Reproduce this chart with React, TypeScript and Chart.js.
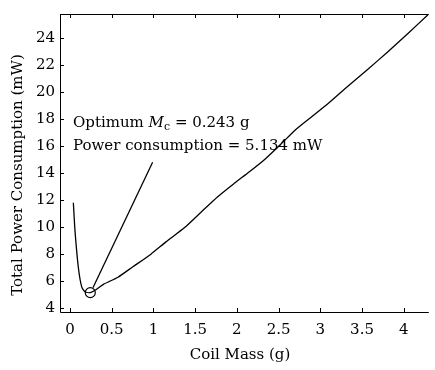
import React, { useEffect, useRef } from "react";
import { Chart, registerables } from "chart.js";

Chart.register(...registerables);

const coilMass = [0.04, 0.06, 0.1, 0.14, 0.18, 0.243, 0.3, 0.4, 0.575, 0.75, 0.97, 1.15, 1.37, 1.57, 1.77, 1.96, 2.15, 2.34, 2.52, 2.7, 2.9, 3.1, 3.33, 3.57, 3.8, 4.05, 4.29];
const powerMW = [11.8, 9.7, 7.0, 5.56, 5.2, 5.134, 5.31, 5.75, 6.28, 7.04, 7.99, 8.9, 9.94, 11.1, 12.25, 13.2, 14.1, 15.05, 16.1, 17.2, 18.2, 19.2, 20.45, 21.7, 22.95, 24.35, 25.75];
const optimumMass = [0.243];
const optimumPower = [5.134];
const leaderX = [0.275, 0.99];
const leaderY = [5.5, 14.8];
const xTicks = [0, 0.5, 1, 1.5, 2, 2.5, 3, 3.5, 4];
const yTicks = [4, 6, 8, 10, 12, 14, 16, 18, 20, 22, 24];

const FONT = "'DejaVu Serif', 'Liberation Serif', serif";

const decorPlugin = {
  id: "decor",
  afterDraw(chart: any) {
    const ctx = chart.ctx;
    const { left, right, top, bottom } = chart.chartArea;
    const xs = chart.scales.x;
    const ys = chart.scales.y;
    ctx.save();
    ctx.strokeStyle = "#000";
    ctx.lineWidth = 1;
    ctx.beginPath();
    ctx.moveTo(left + 0.5, top);
    ctx.lineTo(left + 0.5, bottom + 0.5);
    ctx.lineTo(right, bottom + 0.5);
    ctx.moveTo(left, top + 0.5);
    ctx.lineTo(right, top + 0.5);
    const tl = 4;
    xTicks.forEach((v) => {
      const px = Math.round(xs.getPixelForValue(v)) + 0.5;
      ctx.moveTo(px, bottom);
      ctx.lineTo(px, bottom - tl);
      ctx.moveTo(px, top);
      ctx.lineTo(px, top + tl);
    });
    yTicks.forEach((v) => {
      const py = Math.round(ys.getPixelForValue(v)) + 0.5;
      ctx.moveTo(left, py);
      ctx.lineTo(left + tl, py);
    });
    ctx.stroke();

    ctx.fillStyle = "#000";
    ctx.font = `15px ${FONT}`;
    ctx.textAlign = "center";
    ctx.textBaseline = "middle";
    ctx.fillText("Coil Mass (g)", 240, 355);
    ctx.save();
    ctx.translate(18, 175);
    ctx.rotate(-Math.PI / 2);
    ctx.fillText("Total Power Consumption (mW)", 0, 0);
    ctx.restore();

    ctx.textAlign = "left";
    ctx.textBaseline = "alphabetic";
    let x = 73;
    const b1 = 127;
    ctx.font = `15px ${FONT}`;
    ctx.fillText("Optimum ", x, b1);
    x += ctx.measureText("Optimum ").width;
    ctx.font = `italic 15px ${FONT}`;
    ctx.fillText("M", x, b1);
    x += ctx.measureText("M").width;
    ctx.font = `11px ${FONT}`;
    ctx.fillText("c", x, b1 + 3);
    x += ctx.measureText("c").width;
    ctx.font = `15px ${FONT}`;
    ctx.fillText(" = 0.243 g", x, b1);
    ctx.fillText("Power consumption = 5.134 mW", 73, 150);
    ctx.restore();
  },
};

export default function App() {
  const ref = useRef<HTMLCanvasElement>(null);
  useEffect(() => {
    document.body.style.margin = "0";
    const canvas = ref.current!;
    const chart = new Chart(canvas, {
      type: "line",
      data: {
        datasets: [
          {
            data: coilMass.map((m, i) => ({ x: m, y: powerMW[i] })),
            borderColor: "#000",
            borderWidth: 1.3,
            pointRadius: 0,
            tension: 0.2,
            fill: false,
          },
          {
            data: leaderX.map((m, i) => ({ x: m, y: leaderY[i] })),
            borderColor: "#000",
            borderWidth: 1.3,
            pointRadius: 0,
            fill: false,
          },
          {
            data: optimumMass.map((m, i) => ({ x: m, y: optimumPower[i] })),
            borderColor: "#000",
            backgroundColor: "rgba(0,0,0,0)",
            borderWidth: 1.2,
            pointRadius: 5,
            showLine: false,
          },
        ],
      },
      options: {
        animation: false,
        responsive: false,
        maintainAspectRatio: false,
        layout: { padding: { top: 9, right: 4, left: 0, bottom: 0 } },
        plugins: { legend: { display: false }, tooltip: { enabled: false } },
        scales: {
          x: {
            type: "linear",
            min: -0.12,
            max: 4.3,
            grid: { display: false, drawTicks: false },
            border: { display: false },
            afterBuildTicks: (s: any) => {
              s.ticks = xTicks.map((v) => ({ value: v }));
            },
            afterFit: (s: any) => {
              s.height = 58;
            },
            ticks: {
              padding: 9,
              color: "#000",
              maxRotation: 0,
              autoSkip: false,
              font: { family: FONT, size: 15 },
              callback: (v: any) => String(v),
            },
          },
          y: {
            type: "linear",
            min: 3.7,
            max: 25.8,
            grid: { display: false, drawTicks: false },
            border: { display: false },
            afterBuildTicks: (s: any) => {
              s.ticks = yTicks.map((v) => ({ value: v }));
            },
            afterFit: (s: any) => {
              s.width = 60;
            },
            ticks: {
              padding: 5,
              color: "#000",
              autoSkip: false,
              font: { family: FONT, size: 15 },
              callback: (v: any) => String(v),
            },
          },
        },
      },
      plugins: [decorPlugin],
    });
    return () => chart.destroy();
  }, []);
  return (
    <div style={{ width: 435, height: 370, background: "#fff" }}>
      <canvas ref={ref} width={435} height={370} style={{ width: 435, height: 370, display: "block" }} />
    </div>
  );
}
